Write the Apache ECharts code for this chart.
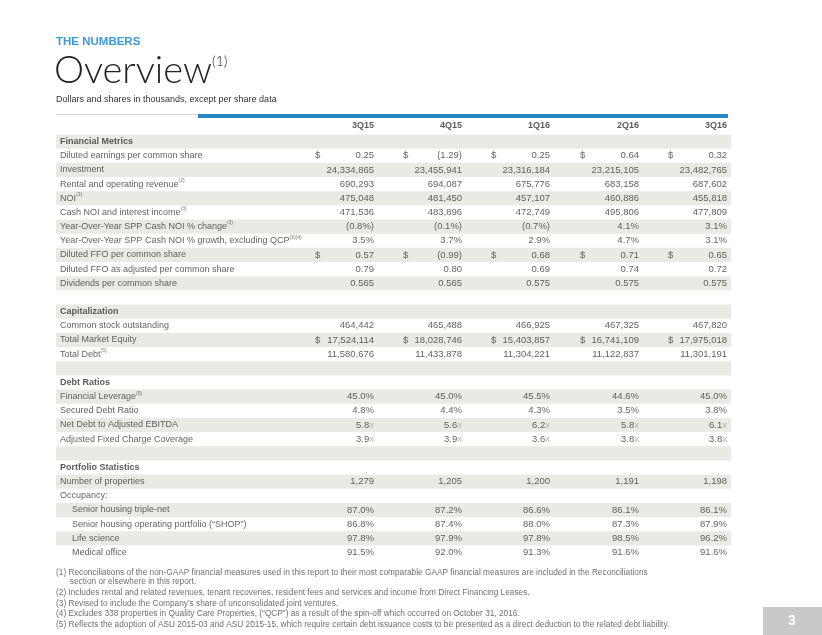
<!DOCTYPE html>
<html>
<head>
<meta charset="utf-8">
<script src="https://cdn.jsdelivr.net/npm/echarts@6/dist/echarts.min.js"></script>
<style>
html,body{margin:0;padding:0;background:#fff;}
#chart{width:822px;height:635px;}
</style>
</head>
<body>
<div id="chart"></div>
<script>
// ---------- DATA ----------
const quarters = ['3Q15', '4Q15', '1Q16', '2Q16', '3Q16'];

const rowLabels = [
  'Financial Metrics',
  'Diluted earnings per common share',
  'Investment',
  'Rental and operating revenue',
  'NOI',
  'Cash NOI and interest income',
  'Year-Over-Year SPP Cash NOI % change',
  'Year-Over-Year SPP Cash NOI % growth, excluding QCP',
  'Diluted FFO per common share',
  'Diluted FFO as adjusted per common share',
  'Dividends per common share',
  '',
  'Capitalization',
  'Common stock outstanding',
  'Total Market Equity',
  'Total Debt',
  '',
  'Debt Ratios',
  'Financial Leverage',
  'Secured Debt Ratio',
  'Net Debt to Adjusted EBITDA',
  'Adjusted Fixed Charge Coverage',
  '',
  'Portfolio Statistics',
  'Number of properties',
  'Occupancy:',
  'Senior housing triple-net',
  'Senior housing operating portfolio (“SHOP”)',
  'Life science',
  'Medical office'
];

const rowNotes = ['', '', '', '(2)', '(3)', '(3)', '(3)', '(3)(4)', '', '', '', '',
  '', '', '', '(5)', '', '', '(5)', '', '', '', '', '', '', '', '', '', '', ''];

// head = section heading, usd2 = $ + 2 decimals, int, usd0 = $ + integer, pct, dec2, dec3, mult, text, blank
const rowFormats = ['head', 'usd2', 'int', 'int', 'int', 'int', 'pct', 'pct', 'usd2', 'dec2', 'dec3', 'blank',
  'head', 'int', 'usd0', 'int', 'blank',
  'head', 'pct', 'pct', 'mult', 'mult', 'blank',
  'head', 'int', 'text', 'pct', 'pct', 'pct', 'pct'];

const rowIndent = [0,0,0,0,0,0,0,0,0,0,0,0, 0,0,0,0,0, 0,0,0,0,0,0, 0,0,0,1,1,1,1];

const v3Q15 = [null, 0.25, 24334865, 690293, 475048, 471536, -0.8, 3.5, 0.57, 0.79, 0.565, null,
  null, 464442, 17524114, 11580676, null, null, 45.0, 4.8, 5.8, 3.9, null,
  null, 1279, null, 87.0, 86.8, 97.8, 91.5];
const v4Q15 = [null, -1.29, 23455941, 694087, 481450, 483896, -0.1, 3.7, -0.99, 0.80, 0.565, null,
  null, 465488, 18028746, 11433878, null, null, 45.0, 4.4, 5.6, 3.9, null,
  null, 1205, null, 87.2, 87.4, 97.9, 92.0];
const v1Q16 = [null, 0.25, 23316184, 675776, 457107, 472749, -0.7, 2.9, 0.68, 0.69, 0.575, null,
  null, 466925, 15403857, 11304221, null, null, 45.5, 4.3, 6.2, 3.6, null,
  null, 1200, null, 86.6, 88.0, 97.8, 91.3];
const v2Q16 = [null, 0.64, 23215105, 683158, 460886, 495806, 4.1, 4.7, 0.71, 0.74, 0.575, null,
  null, 467325, 16741109, 11122837, null, null, 44.6, 3.5, 5.8, 3.8, null,
  null, 1191, null, 86.1, 87.3, 98.5, 91.6];
const v3Q16 = [null, 0.32, 23482765, 687602, 455818, 477809, 3.1, 3.1, 0.65, 0.72, 0.575, null,
  null, 467820, 17975018, 11301191, null, null, 45.0, 3.8, 6.1, 3.8, null,
  null, 1198, null, 86.1, 87.9, 96.2, 91.6];

const quarterValues = [v3Q15, v4Q15, v1Q16, v2Q16, v3Q16];

const footnotes = [
  '(1) Reconciliations of the non-GAAP financial measures used in this report to their most comparable GAAP financial measures are included in the Reconciliations',
  '      section or elsewhere in this report.',
  '(2) Includes rental and related revenues, tenant recoveries, resident fees and services and income from Direct Financing Leases.',
  '(3) Revised to include the Company’s share of unconsolidated joint ventures.',
  '(4) Excludes 338 properties in Quality Care Properties, (“QCP”) as a result of the spin-off which occurred on October 31, 2016.',
  '(5) Reflects the adoption of ASU 2015-03 and ASU 2015-15, which require certain debt issuance costs to be presented as a direct deduction to the related debt liability.'
];

// ---------- LAYOUT ----------
const FONT = '"Liberation Sans", Arial, sans-serif';
const TABLE_W = 675;             // axis units == pixels
const ROW_H = 14.17;
const GRID_TOP = 134.5 - ROW_H;
const colRight = [318, 406, 494, 583, 671];
const DOLLAR_OFF = 59;
const yCats = ['hdr'].concat(rowLabels.map((_, i) => 'r' + i));

function groupNum(v, dec) {
  const s = Math.abs(v).toFixed(dec);
  const parts = s.split('.');
  parts[0] = parts[0].replace(/\B(?=(\d{3})+(?!\d))/g, ',');
  return parts.join('.');
}
function formatValue(v, fmt) {
  const neg = v < 0;
  let t;
  switch (fmt) {
    case 'usd2': case 'dec2': t = groupNum(v, 2); break;
    case 'dec3': t = groupNum(v, 3); break;
    case 'int': case 'usd0': t = groupNum(v, 0); break;
    case 'pct': t = groupNum(v, 1) + '%'; break;
    case 'mult': return '{v|' + groupNum(v, 1) + '}{x|x}';
    default: t = String(v);
  }
  return '{v|' + (neg ? '(' + t + ')' : t) + '}';
}

// stripes
const stripeData = yCats.map((c, k) => (k > 0 && (k - 1) % 2 === 0) ? TABLE_W : '-');

// row labels
const labelData = rowLabels.map((lab, i) => ({
  value: [rowIndent[i] ? 16 : 4, i + 1],
  idx: i
})).filter(d => rowLabels[d.idx] !== '');

const series = [];
series.push({
  type: 'bar',
  name: 'stripes',
  data: stripeData,
  barWidth: '100%',
  barCategoryGap: '0%',
  itemStyle: { color: '#e9eae5' },
  silent: true,
  z: 1
});
series.push({
  type: 'scatter',
  name: 'labels',
  data: labelData,
  symbolSize: 1,
  itemStyle: { color: 'rgba(0,0,0,0)' },
  silent: true,
  z: 5,
  label: {
    show: true,
    position: 'inside',
    align: 'left',
    verticalAlign: 'middle',
    formatter: p => {
      const i = p.data.idx;
      const style = rowFormats[i] === 'head' ? 'b' : 'n';
      let s = '{' + style + '|' + rowLabels[i] + '}';
      if (rowNotes[i]) s += '{s|' + rowNotes[i] + '}';
      return s;
    },
    rich: {
      n: { fontFamily: FONT, fontSize: 9, color: '#3a3a3a', lineHeight: 12 },
      b: { fontFamily: FONT, fontSize: 9, fontWeight: 'bold', color: '#333', lineHeight: 12 },
      s: { fontFamily: FONT, fontSize: 5, color: '#555', verticalAlign: 'top', lineHeight: 6 }
    }
  }
});
// header
series.push({
  type: 'scatter',
  name: 'header',
  data: quarters.map((q, k) => ({ value: [colRight[k], 0], q: q })),
  symbolSize: 1,
  itemStyle: { color: 'rgba(0,0,0,0)' },
  silent: true,
  z: 5,
  label: {
    show: true, position: 'inside', align: 'right', verticalAlign: 'middle',
    offset: [0, -2],
    formatter: p => p.data.q,
    fontFamily: FONT, fontSize: 9, fontWeight: 'bold', color: '#333'
  }
});
// values per quarter
quarters.forEach((q, k) => {
  const vals = quarterValues[k];
  const pts = [];
  const dol = [];
  vals.forEach((v, i) => {
    if (v === null) return;
    pts.push({ value: [colRight[k], i + 1, v], fmt: rowFormats[i] });
    if (rowFormats[i] === 'usd2' || rowFormats[i] === 'usd0') {
      dol.push({ value: [colRight[k] - DOLLAR_OFF, i + 1] });
    }
  });
  series.push({
    type: 'scatter', name: q, data: pts, symbolSize: 1,
    itemStyle: { color: 'rgba(0,0,0,0)' }, silent: true, z: 5,
    label: {
      show: true, position: 'inside', align: 'right', verticalAlign: 'middle',
      formatter: p => formatValue(p.data.value[2], p.data.fmt),
      rich: {
        v: { fontFamily: FONT, fontSize: 9.5, color: '#3a3a3a' },
        x: { fontFamily: FONT, fontSize: 9.5, color: '#a0a0a0' }
      }
    }
  });
  series.push({
    type: 'scatter', name: q + ' $', data: dol, symbolSize: 1,
    itemStyle: { color: 'rgba(0,0,0,0)' }, silent: true, z: 5,
    label: {
      show: true, position: 'inside', align: 'left', verticalAlign: 'middle',
      formatter: () => '$',
      fontFamily: FONT, fontSize: 9.5, color: '#3a3a3a'
    }
  });
});

const graphics = [
  { type: 'text', x: 56, y: 42, style: { text: 'THE NUMBERS', font: 'bold 11.5px ' + FONT, fill: '#3d9ad5', textVerticalAlign: 'middle', verticalAlign: 'middle' } },
  { type: 'text', x: 54, y: 52, style: {
      text: '{a|Overview}{b|(1)}',
      textVerticalAlign: 'top', verticalAlign: 'top',
      rich: {
        a: { fontFamily: 'Lato, "Open Sans", sans-serif', fontSize: 38, fontWeight: 300, fill: '#222', color: '#222' },
        b: { fontFamily: 'Lato, "Open Sans", sans-serif', fontSize: 14, fontWeight: 300, fill: '#222', color: '#222', verticalAlign: 'top', padding: [2, 0, 0, 0] }
      }
  } },
  { type: 'text', x: 56, y: 100, style: { text: 'Dollars and shares in thousands, except per share data', font: '9px ' + FONT, fill: '#333', textVerticalAlign: 'middle', verticalAlign: 'middle' } },
  { type: 'rect', shape: { x: 56, y: 114, width: 142, height: 1 }, style: { fill: '#d4d4d4' } },
  { type: 'rect', shape: { x: 198, y: 114, width: 530, height: 4 }, style: { fill: '#2a86c6' } },
  { type: 'rect', shape: { x: 763, y: 607, width: 59, height: 28 }, style: { fill: '#c9c9c9' } },
  { type: 'text', x: 792, y: 621, style: { text: '3', font: 'bold 14px ' + FONT, fill: '#fff', textAlign: 'center', align: 'center', textVerticalAlign: 'middle', verticalAlign: 'middle' } }
];
const fnY = [572.5, 582, 592.8, 603.8, 614.2, 624.3];
footnotes.forEach((t, i) => {
  graphics.push({ type: 'text', x: 56, y: fnY[i], style: { text: t, font: '8.3px ' + FONT, fill: '#707070', textVerticalAlign: 'middle', verticalAlign: 'middle' } });
});

const chart = echarts.init(document.getElementById('chart'), null, { renderer: 'canvas' });
chart.setOption({
  animation: false,
  backgroundColor: '#fff',
  grid: { left: 56, top: GRID_TOP, width: TABLE_W, height: ROW_H * yCats.length },
  xAxis: { type: 'value', min: 0, max: TABLE_W, show: false },
  yAxis: { type: 'category', data: yCats, inverse: true, show: false },
  series: series,
  graphic: graphics
});
</script>
</body>
</html>
